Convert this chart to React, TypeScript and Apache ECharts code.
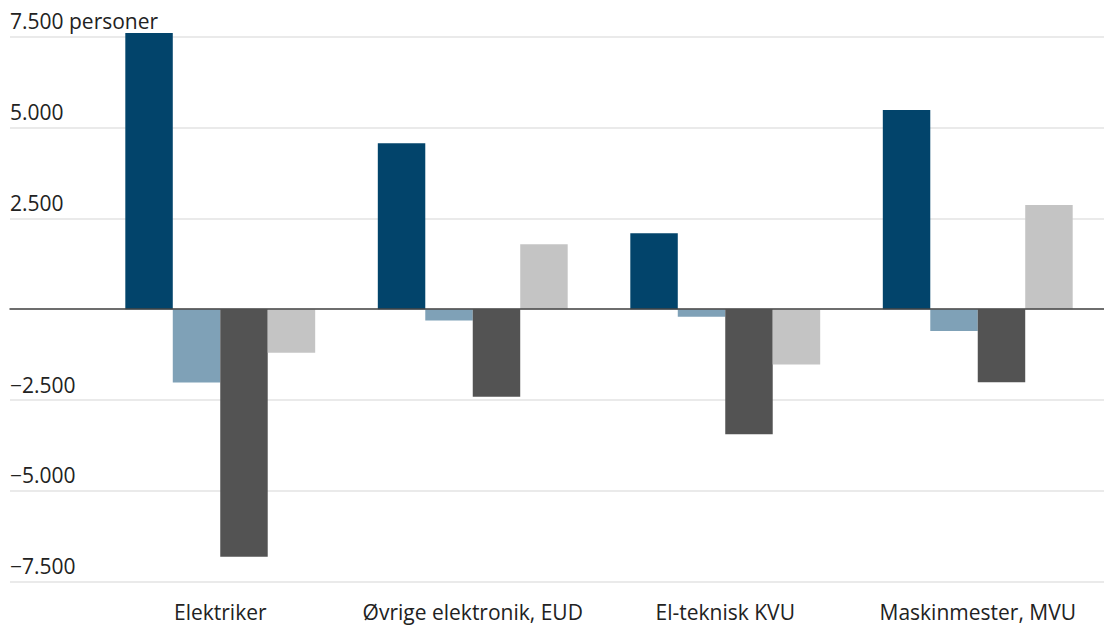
import React, { useEffect, useRef } from "react";
import * as echarts from "echarts";

// Categories along the x axis
const categories = [
  "Elektriker",
  "Øvrige elektronik, EUD",
  "El-teknisk KVU",
  "Maskinmester, MVU",
];

// Four series per category (persons)
const seriesA = [7600, 4570, 2090, 5480];
const seriesB = [-2020, -310, -210, -600];
const seriesC = [-6810, -2410, -3440, -2010];
const seriesD = [-1200, 1790, -1520, 2870];

const seriesNames = ["Serie A", "Serie B", "Serie C", "Serie D"];
const seriesColors = ["#02446b", "#7fa1b7", "#535353", "#c4c4c4"];

// Value axis
const yMin = -7500;
const yMax = 7500;
const yStep = 2500;
const yUnit = "personer";

const FONT = "'Open Sans', sans-serif";

function formatTick(v: number): string {
  if (v === 0) return "";
  const abs = Math.abs(v).toLocaleString("de-DE");
  const s = (v < 0 ? "\u2212" : "") + abs;
  return v === yMax ? `${s} ${yUnit}` : s;
}

export default function App() {
  const ref = useRef<HTMLDivElement>(null);

  useEffect(() => {
    if (!ref.current) return;
    // no scrollbars: the chart fills the whole window
    document.documentElement.style.overflow = "hidden";
    document.body.style.overflow = "hidden";
    document.body.style.margin = "0";

    const chart = echarts.init(ref.current, undefined, { renderer: "svg" });
    const plotTop = 36.7;
    const plotHeight = 545;

    const values = [seriesA, seriesB, seriesC, seriesD];

    chart.setOption({
      animation: false,
      backgroundColor: "#ffffff",
      grid: [
        // bars
        { left: 94, top: plotTop, width: 1014, height: plotHeight },
        // gridlines and value labels across the full width
        { left: 10, top: plotTop, width: 1110, height: plotHeight },
      ],
      xAxis: [
        {
          type: "category",
          gridIndex: 0,
          data: categories,
          axisLine: { show: false },
          axisTick: { show: false },
          axisLabel: {
            interval: 0,
            color: "#222222",
            fontFamily: FONT,
            fontSize: 21,
            margin: 20,
          },
        },
        {
          type: "value",
          gridIndex: 1,
          min: 0,
          max: 1,
          z: 10,
          axisLine: {
            show: true,
            onZero: true,
            lineStyle: { color: "#444444", width: 1.5 },
          },
          axisTick: { show: false },
          axisLabel: { show: false },
          splitLine: { show: false },
        },
      ],
      yAxis: [
        {
          type: "value",
          gridIndex: 0,
          min: yMin,
          max: yMax,
          interval: yStep,
          axisLine: { show: false },
          axisTick: { show: false },
          axisLabel: { show: false },
          splitLine: { show: false },
        },
        {
          type: "value",
          gridIndex: 1,
          min: yMin,
          max: yMax,
          interval: yStep,
          axisLine: { show: false },
          axisTick: { show: false },
          axisLabel: {
            inside: true,
            margin: 0,
            align: "left",
            verticalAlign: "bottom",
            padding: [0, 0, 5, 0],
            color: "#222222",
            fontFamily: FONT,
            fontSize: 21,
            formatter: (v: number) => formatTick(v),
          },
          splitLine: {
            show: true,
            lineStyle: { color: "#e3e3e3", width: 1.5 },
          },
        },
      ],
      series: [
        ...values.map((data, i) => ({
          name: seriesNames[i],
          type: "bar",
          xAxisIndex: 0,
          yAxisIndex: 0,
          data,
          clip: false,
          barGap: "0%",
          barCategoryGap: "24.8%",
          itemStyle: { color: seriesColors[i] },
          z: 3,
        })),
        {
          type: "line",
          xAxisIndex: 1,
          yAxisIndex: 1,
          data: [],
        },
      ],
    });

    return () => chart.dispose();
  }, []);

  return (
    <div
      ref={ref}
      style={{ position: "fixed", left: 0, top: 0, width: 1104, height: 626 }}
    />
  );
}
